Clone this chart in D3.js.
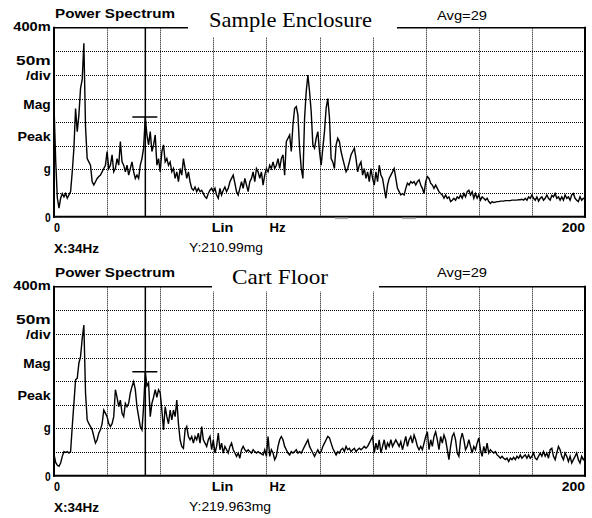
<!DOCTYPE html>
<html><head><meta charset="utf-8">
<script src="https://cdn.jsdelivr.net/npm/d3@7/dist/d3.min.js"></script>
<style>body{margin:0;background:#fff}svg{display:block}</style>
</head><body>
<svg id="c" width="592" height="518"></svg>
<script>
// ---------- data ----------
const binHz = 0.625;               // spectral line spacing (Hz)
const freqMax = 200;
const magMax = 400;                // mg, full scale (8 div x 50m)
const xGrid = [20,40,60,80,100,120,140,160,180];
const yGrid = [50,100,150,200,250,300,350];
const panelTitles = ["Sample Enclosure", "Cart Floor"];
const headerLabel = "Power Spectrum";
const avgLabel = "Avg=29";
const yLabels = ["400m","50m","/div","Mag","Peak","g","0"];
const xLabels = ["0","Lin","Hz","200"];
const cursorHz = 34.4;
const cursorX = ["X:34Hz","X:34Hz"];
const cursorMg = [210.99, 219.963];
const cursorY = ["Y:210.99mg","Y:219.963mg"];

const enclosureMg = [236,120,40,
18,39,49,42,49,39,46,53,95,145,
229,180,215,272,290,367,190,123,116,109,
74,67,74,81,85,88,95,102,109,138,
102,109,131,95,102,123,109,159,116,109,
95,109,88,102,116,95,81,88,81,109,
123,145,211,173,152,180,138,152,173,109,
123,95,138,152,116,123,109,116,95,102,
81,95,74,102,88,123,102,81,95,74,
60,56,63,53,60,53,56,49,42,39,
49,56,60,53,60,46,39,60,46,56,
63,53,60,74,81,88,71,53,46,60,
74,60,81,67,53,74,81,95,74,102,
95,81,95,67,88,102,95,109,102,116,
102,109,123,102,123,131,88,159,166,173,
138,194,229,233,215,145,102,81,208,265,
300,265,222,152,145,166,180,138,
109,145,180,230,250,210,123,116,102,152,
166,159,138,123,109,95,102,116,131,138,
145,123,95,109,116,88,102,81,95,74,
102,81,67,95,74,109,88,81,60,39,
67,81,88,95,102,81,60,53,46,49,
46,60,71,67,74,71,74,67,74,78,
67,60,49,74,85,81,71,67,60,67,
60,53,49,46,39,46,39,42,32,35,
39,35,42,39,46,39,49,42,53,56,
46,53,39,49,39,46,35,42,39,35,
39,32,28,32,30,31,32,32,33,33,
33,34,34,34,34,35,35,35,35,36,
36,37,35,39,35,42,39,46,39,35,
42,33,39,42,35,39,46,39,35,45,
42,49,39,42,35,42,35,46,39,42,
35,46,49,39,35,32,42,35,39,
38];

const cartFloorMg = [45,28,22,
20,27,41,51,49,51,48,51,104,153,
203,206,238,252,290,319,175,118,110,104,
97,83,69,76,90,97,110,139,132,125,
110,104,110,125,182,166,146,160,132,125,
153,146,153,175,189,199,182,146,125,104,
97,146,220,190,196,125,153,166,182,166,
182,175,139,97,146,125,110,139,118,139,
125,160,110,76,62,58,97,104,83,76,
83,69,83,76,90,69,104,76,69,62,
76,83,55,76,48,62,90,55,69,48,
62,55,48,62,69,55,48,41,48,37,
55,62,55,51,55,51,48,55,51,48,
51,48,46,44,55,41,83,41,55,48,
34,41,62,76,83,76,62,55,48,44,
51,48,51,55,48,51,48,55,62,69,
76,62,55,48,41,48,55,48,
51,62,69,76,83,80,69,58,51,44,
51,48,55,58,51,62,55,58,51,55,
58,51,55,58,55,58,62,58,62,69,
76,83,48,69,55,76,48,62,76,55,
69,62,76,62,69,76,69,62,72,55,
69,83,62,76,83,69,86,76,62,55,
62,55,69,83,93,55,76,62,83,93,
76,55,83,69,86,76,55,34,62,83,
90,76,48,41,76,90,76,55,62,76,
62,48,62,55,69,80,55,41,62,48,
69,48,55,51,48,51,44,41,37,41,
37,34,37,30,37,34,39,34,41,37,
44,37,41,44,37,44,37,41,48,37,
34,41,48,41,51,41,48,37,55,58,
41,34,48,62,55,41,34,48,41,30,
41,27,34,41,48,34,27,41,34,
38];

const series = [enclosureMg, cartFloorMg];

// ---------- layout ----------
const svg = d3.select("#c");
const panelDy = [0, 259];
const L = 54, R = 585, T = 27.7, B = 216.7;
const titleBox = [[188, 397], [212, 379]];
const titleX = [209, 232], titleBase = [26.7, 24.5], titleLen = [163, 96];
const sans = "'Liberation Sans', Arial, sans-serif";
const serif = "'Liberation Serif', 'Times New Roman', serif";
const snap = v => Math.round(v) + 0.5;

series.forEach((vals, p) => {
  const dy = panelDy[p];
  const g = svg.append("g");
  const x = d3.scaleLinear().domain([0, freqMax]).range([L, R]);
  const y = d3.scaleLinear().domain([0, magMax]).range([B + dy, T + dy]);

  // grid (dotted)
  g.selectAll(".vg").data(xGrid).enter().append("line")
    .attr("x1", d => snap(x(d))).attr("x2", d => snap(x(d)))
    .attr("y1", y(magMax)).attr("y2", y(0))
    .attr("stroke", "#000").attr("stroke-width", 1)
    .attr("stroke-dasharray", "1,1");
  g.selectAll(".hg").data(yGrid).enter().append("line")
    .attr("x1", x(0)).attr("x2", x(freqMax))
    .attr("y1", d => snap(y(d))).attr("y2", d => snap(y(d)))
    .attr("stroke", "#000").attr("stroke-width", 1)
    .attr("stroke-dasharray", "1,1");

  // trace
  const line = d3.line().x((d, i) => x(i * binHz)).y(d => y(d));
  g.append("path").datum(vals).attr("d", line)
    .attr("fill", "none").attr("stroke", "#000").attr("stroke-width", 1.4)
    .attr("stroke-linejoin", "miter");

  // frame
  const fr = [[x(0), y(0), x(freqMax), y(0), 2],
              [x(0), y(0), x(0), y(magMax), 2],
              [x(freqMax), y(0), x(freqMax), y(magMax), 2],
              [x(0), y(magMax), x(freqMax), y(magMax), 1.6]];
  fr.forEach(f => g.append("line").attr("x1", f[0]).attr("y1", f[1]).attr("x2", f[2]).attr("y2", f[3])
    .attr("stroke", "#000").attr("stroke-width", f[4]).attr("stroke-linecap", "square"));

  // gray artefacts under the top trace axis
  if (p === 0) {
    [[335, 348], [402, 416]].forEach(s => g.append("rect").attr("x", s[0]).attr("y", y(0) + 0.8)
      .attr("width", s[1] - s[0]).attr("height", 1.6).attr("fill", "#aaa"));
  }

  // title box (white mask over border/grid)
  g.append("rect").attr("x", titleBox[p][0]).attr("y", dy).attr("width", titleBox[p][1] - titleBox[p][0])
    .attr("height", (p === 0 ? 37 : 32.5)).attr("fill", "#fff");
  g.append("text").attr("x", titleX[p]).attr("y", titleBase[p] + dy)
    .attr("font-family", serif).attr("font-size", 21)
    .attr("textLength", titleLen[p]).attr("lengthAdjust", "spacingAndGlyphs")
    .text(panelTitles[p]);

  // cursor
  const cx = x(cursorHz);
  g.append("line").attr("x1", cx).attr("x2", cx).attr("y1", y(magMax)).attr("y2", y(0))
    .attr("stroke", "#000").attr("stroke-width", 1.5);
  g.append("line").attr("x1", cx - 13).attr("x2", cx + 12)
    .attr("y1", y(cursorMg[p])).attr("y2", y(cursorMg[p]))
    .attr("stroke", "#000").attr("stroke-width", 1.5);

  // header texts
  g.append("text").attr("x", 55).attr("y", 18 + dy)
    .attr("font-family", sans).attr("font-weight", "bold").attr("font-size", 13)
    .attr("textLength", 120).attr("lengthAdjust", "spacingAndGlyphs").text(headerLabel);
  g.append("text").attr("x", 437).attr("y", 19.5 + dy - (p === 1 ? 2 : 0))
    .attr("font-family", sans).attr("font-size", 12)
    .attr("textLength", 50).attr("lengthAdjust", "spacingAndGlyphs").text(avgLabel);

  // left labels
  const yLabBase = [30.7, 64.5, 80, 109, 140.7, 172.5, 221.7];
  const yLabW = [37.4, 34.7, 24.7, 27.4, 33.3, 7, 5.7];
  yLabels.forEach((t, i) => g.append("text").attr("x", 50.7).attr("y", yLabBase[i] + dy)
    .attr("text-anchor", "end").attr("font-family", sans).attr("font-weight", "bold").attr("font-size", 13)
    .attr("textLength", yLabW[i]).attr("lengthAdjust", "spacingAndGlyphs").text(t));

  // bottom labels
  const xLabPos = [[x(0), "start", 6], [211.7, "start", 21.6], [269.5, "start", 16], [x(freqMax), "end", 23.3]];
  xLabels.forEach((t, i) => g.append("text").attr("x", xLabPos[i][0]).attr("y", 231.7 + dy)
    .attr("text-anchor", xLabPos[i][1]).attr("font-family", sans).attr("font-weight", "bold").attr("font-size", 13)
    .attr("textLength", xLabPos[i][2]).attr("lengthAdjust", "spacingAndGlyphs").text(t));

  g.append("text").attr("x", 54).attr("y", 252.5 + dy)
    .attr("font-family", sans).attr("font-weight", "bold").attr("font-size", 13)
    .attr("textLength", 45).attr("lengthAdjust", "spacingAndGlyphs").text(cursorX[p]);
  g.append("text").attr("x", 189).attr("y", 251.5 + dy)
    .attr("font-family", sans).attr("font-size", 12.5)
    .attr("textLength", p === 0 ? 74 : 82).attr("lengthAdjust", "spacingAndGlyphs").text(cursorY[p]);
});
</script>
</body></html>
